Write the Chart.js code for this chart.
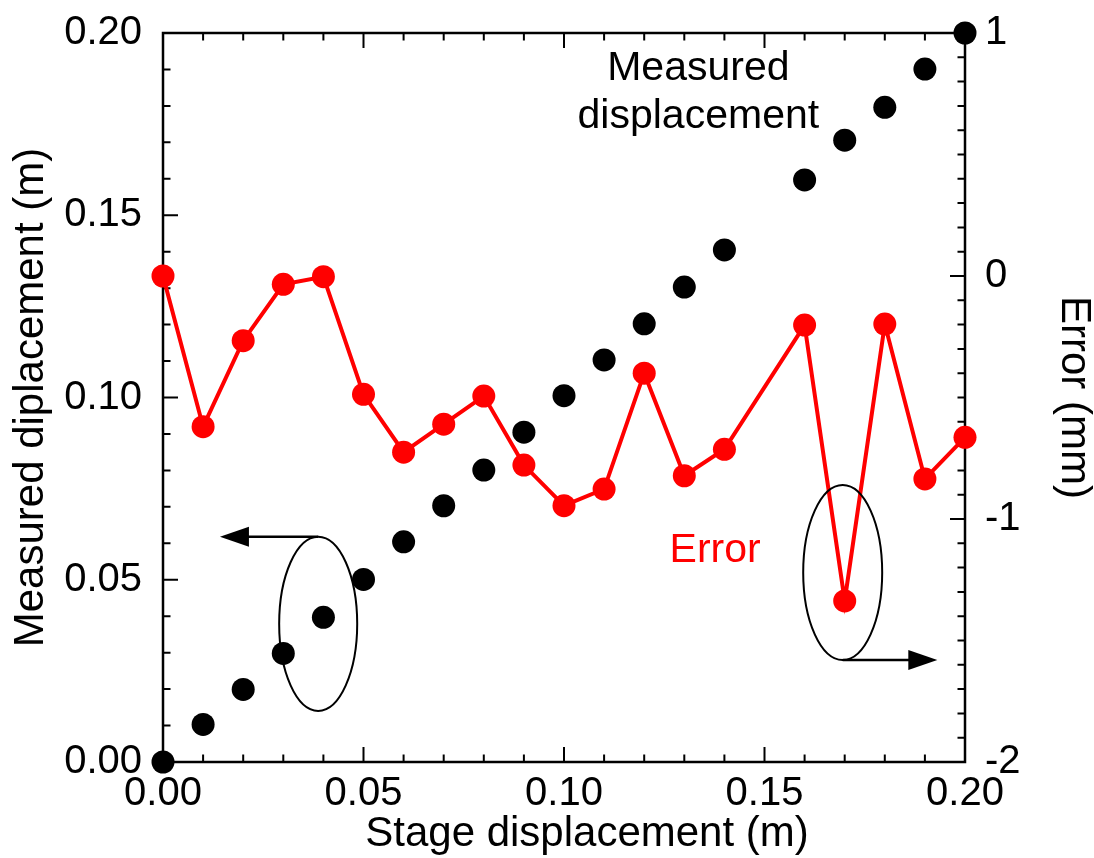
<!DOCTYPE html>
<html>
<head>
<meta charset="utf-8">
<script src="https://cdn.jsdelivr.net/npm/chart.js@4.4.1/dist/chart.umd.min.js"></script>
<style>
  html, body { margin: 0; padding: 0; background: #fff; }
  #wrap { width: 1094px; height: 858px; position: relative; }
</style>
</head>
<body>
<div id="wrap"><canvas id="chart"></canvas></div>
<script>
// stage positions (m); the 0.15 m step has no reading
const stagePos = [0.00, 0.01, 0.02, 0.03, 0.04, 0.05, 0.06, 0.07, 0.08, 0.09,
                  0.10, 0.11, 0.12, 0.13, 0.14, 0.16, 0.17, 0.18, 0.19, 0.20];
// measured displacement (m), left axis
const measured = [0.0000, 0.0103, 0.0199, 0.0298, 0.0397, 0.0501, 0.0604, 0.0703, 0.0801, 0.0905,
                  0.1005, 0.1103, 0.1202, 0.1303, 0.1405, 0.1597, 0.1706, 0.1796, 0.1901, 0.2000];
// error (mm), right axis
const errorMm = [0.000, -0.620, -0.266, -0.034, -0.003, -0.487, -0.725, -0.610, -0.494, -0.778,
                 -0.945, -0.877, -0.400, -0.822, -0.713, -0.202, -1.337, -0.198, -0.835, -0.664];

const xTicks = [0, 0.05, 0.10, 0.15, 0.20];
const xTickLabels = ['0.00', '0.05', '0.10', '0.15', '0.20'];
const yTicks = [0, 0.05, 0.10, 0.15, 0.20];
const yTickLabels = ['0.00', '0.05', '0.10', '0.15', '0.20'];
const errTicks = [-2, -1, 0, 1];
const errTickLabels = ['-2', '-1', '0', '1'];

const FONT = "'Liberation Sans', Arial, sans-serif";
Chart.defaults.font.family = FONT;
Chart.defaults.color = '#000';

const setTicks = (vals) => (scale) => { scale.ticks = vals.map(v => ({ value: v })); };
const labelFrom = (vals, labels) => (v) => labels[vals.indexOf(v)] ?? '';
// fixed axis box sizes; drop the label overhang so the plot box stays put
const fixWidth = (w) => (s) => { s.width = w; s.paddingTop = 0; s.paddingBottom = 0; };

// box frame with inward major/minor ticks on all four sides
const framePlugin = {
  id: 'frame',
  beforeDatasetsDraw(chart) {
    const { ctx, chartArea: a, scales } = chart;
    const major = 15, minor = 7.5;
    ctx.save();
    ctx.strokeStyle = '#000';
    ctx.lineWidth = 2;
    ctx.beginPath();
    for (let i = 0; i <= 20; i++) {
      const v = i * 0.01;
      const len = i % 5 === 0 ? major : minor;
      const px = scales.x.getPixelForValue(v);
      ctx.moveTo(px, a.bottom); ctx.lineTo(px, a.bottom - len);
      ctx.moveTo(px, a.top); ctx.lineTo(px, a.top + len);
      const py = scales.y.getPixelForValue(v);
      ctx.moveTo(a.left, py); ctx.lineTo(a.left + len, py);
    }
    for (let i = 0; i <= 30; i++) {
      const v = -2 + i * 0.1;
      const len = i % 10 === 0 ? major : minor;
      const py = scales.y2.getPixelForValue(v);
      ctx.moveTo(a.right, py); ctx.lineTo(a.right - len, py);
    }
    ctx.stroke();
    ctx.lineWidth = 2.5;
    ctx.strokeRect(a.left, a.top, a.right - a.left, a.bottom - a.top);

    // x axis title sits a little right of the plot centre
    ctx.fillStyle = '#000';
    ctx.font = '42px ' + FONT;
    ctx.textAlign = 'center';
    ctx.textBaseline = 'alphabetic';
    ctx.fillText('Stage displacement (m)', (a.left + a.right) / 2 + 23, a.bottom + 84);
    ctx.restore();
  }
};

function arrowHead(ctx, tipX, y, dir) {
  ctx.beginPath();
  ctx.moveTo(tipX, y);
  ctx.lineTo(tipX - dir * 29, y - 10);
  ctx.lineTo(tipX - dir * 29, y + 10);
  ctx.closePath();
  ctx.fill();
}

// ellipses, arrows and in-plot labels
const notesPlugin = {
  id: 'notes',
  afterDatasetsDraw(chart) {
    const { ctx, scales: { x, y, y2 } } = chart;
    ctx.save();
    ctx.strokeStyle = '#000';
    ctx.fillStyle = '#000';

    // left group -> left axis
    let cx = x.getPixelForValue(0.0387), cy = y.getPixelForValue(0.0379);
    let rx = x.getPixelForValue(0.0387 + 0.00973) - cx;
    let ry = cy - y.getPixelForValue(0.0379 + 0.0239);
    ctx.lineWidth = 2;
    ctx.beginPath();
    ctx.ellipse(cx, cy, rx, ry, 0, 0, Math.PI * 2);
    ctx.stroke();
    let tip = x.getPixelForValue(0.0142);
    ctx.lineWidth = 2.5;
    ctx.beginPath();
    ctx.moveTo(cx, cy - ry); ctx.lineTo(tip + 20, cy - ry);
    ctx.stroke();
    arrowHead(ctx, tip, cy - ry, -1);

    // right group -> right axis
    cx = x.getPixelForValue(0.1695); cy = y2.getPixelForValue(-1.22);
    rx = x.getPixelForValue(0.1695 + 0.00985) - cx;
    ry = cy - y2.getPixelForValue(-1.22 + 0.36);
    ctx.lineWidth = 2;
    ctx.beginPath();
    ctx.ellipse(cx, cy, rx, ry, 0, 0, Math.PI * 2);
    ctx.stroke();
    tip = x.getPixelForValue(0.1931);
    ctx.lineWidth = 2.5;
    ctx.beginPath();
    ctx.moveTo(cx, cy + ry); ctx.lineTo(tip - 20, cy + ry);
    ctx.stroke();
    arrowHead(ctx, tip, cy + ry, 1);

    ctx.font = '41px ' + FONT;
    ctx.textAlign = 'center';
    ctx.textBaseline = 'alphabetic';
    const tx = x.getPixelForValue(0.1335);
    ctx.fillText('Measured', tx, y.getPixelForValue(0.1871));
    ctx.fillText('displacement', tx, y.getPixelForValue(0.1739));
    ctx.fillStyle = '#ff0000';
    ctx.fillText('Error', x.getPixelForValue(0.1377), y.getPixelForValue(0.0549));
    ctx.restore();
  }
};

new Chart(document.getElementById('chart'), {
  type: 'scatter',
  data: {
    datasets: [
      {
        label: 'Measured displacement',
        data: stagePos.map((s, i) => ({ x: s, y: measured[i] })),
        yAxisID: 'y',
        showLine: false,
        pointRadius: 11.5,
        pointHoverRadius: 11.5,
        pointBorderWidth: 0,
        pointBackgroundColor: '#000',
        clip: false
      },
      {
        label: 'Error',
        data: stagePos.map((s, i) => ({ x: s, y: errorMm[i] })),
        yAxisID: 'y2',
        showLine: true,
        borderColor: '#ff0000',
        borderWidth: 4,
        pointRadius: 11.5,
        pointHoverRadius: 11.5,
        pointBorderWidth: 0,
        pointBackgroundColor: '#ff0000',
        clip: false
      }
    ]
  },
  options: {
    responsive: true,
    maintainAspectRatio: false,
    animation: false,
    events: [],
    layout: { padding: { top: 33, left: 0, right: 0, bottom: 0 } },
    plugins: { legend: { display: false }, tooltip: { enabled: false } },
    scales: {
      x: {
        type: 'linear', position: 'bottom', min: 0, max: 0.2,
        grid: { display: false, drawTicks: false },
        border: { display: false },
        afterBuildTicks: setTicks(xTicks),
        afterFit: s => { s.height = 96; },
        ticks: { padding: 8, font: { size: 40 }, maxRotation: 0, callback: labelFrom(xTicks, xTickLabels) },
        title: { display: false }
      },
      y: {
        type: 'linear', position: 'left', min: 0, max: 0.2,
        grid: { display: false, drawTicks: false },
        border: { display: false },
        afterBuildTicks: setTicks(yTicks),
        afterFit: fixWidth(163),
        ticks: { padding: 21, font: { size: 40 }, callback: labelFrom(yTicks, yTickLabels) },
        title: { display: true, text: 'Measured diplacement (m)', font: { size: 42 }, padding: { top: 6, bottom: 0 } }
      },
      y2: {
        type: 'linear', position: 'right', min: -2, max: 1,
        grid: { display: false, drawTicks: false },
        border: { display: false },
        afterBuildTicks: setTicks(errTicks),
        afterFit: fixWidth(129),
        ticks: { padding: 20, font: { size: 40 }, callback: labelFrom(errTicks, errTickLabels) },
        title: { display: true, text: 'Error (mm)', font: { size: 42 }, padding: { top: -5, bottom: 0 } }
      }
    }
  },
  plugins: [framePlugin, notesPlugin]
});
</script>
</body>
</html>
